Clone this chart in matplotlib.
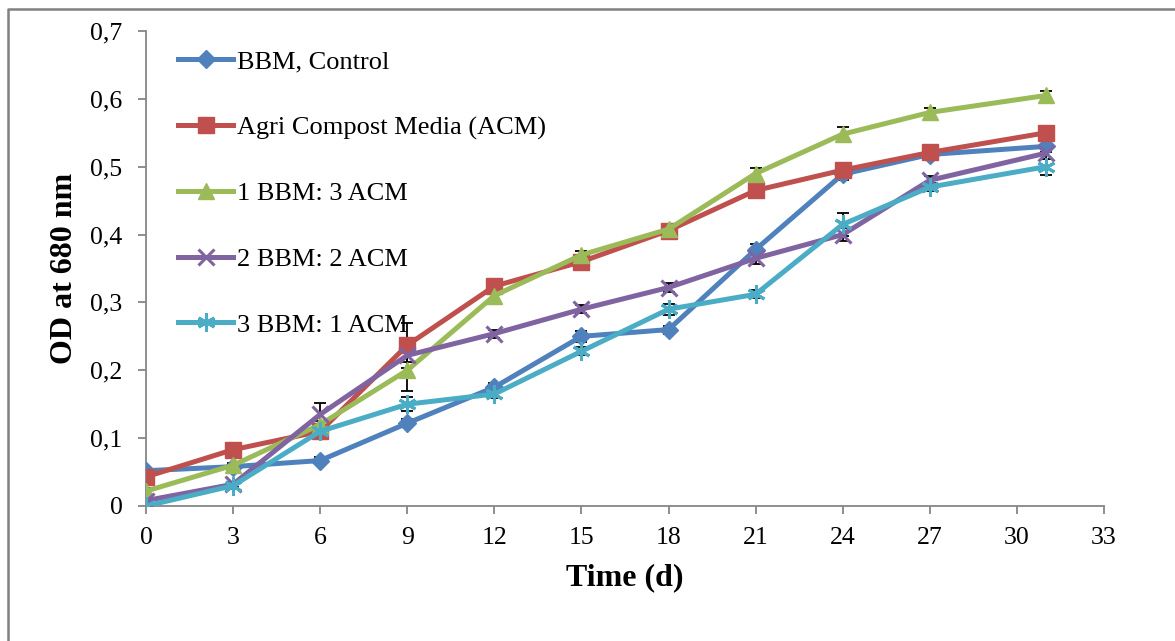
import numpy as np
import matplotlib.pyplot as plt
from matplotlib.ticker import FuncFormatter, MultipleLocator
from matplotlib.lines import Line2D

plt.rcParams['font.family'] = ['Liberation Serif', 'DejaVu Serif']

# sampling days
days = [0, 3, 6, 9, 12, 15, 18, 21, 24, 27, 31]

# OD readings for each growth medium
bbm_control = [0.052, 0.058, 0.067, 0.122, 0.175, 0.250, 0.260, 0.378, 0.489, 0.518, 0.530]
acm = [0.043, 0.083, 0.110, 0.237, 0.324, 0.360, 0.406, 0.465, 0.495, 0.521, 0.550]
bbm1_acm3 = [0.022, 0.060, 0.120, 0.200, 0.310, 0.370, 0.408, 0.490, 0.548, 0.580, 0.605]
bbm2_acm2 = [0.008, 0.032, 0.135, 0.222, 0.254, 0.290, 0.322, 0.365, 0.400, 0.480, 0.520]
bbm3_acm1 = [0.000, 0.030, 0.110, 0.150, 0.165, 0.228, 0.290, 0.312, 0.415, 0.470, 0.500]

# standard deviations
err_bbm = [0.004, 0.004, 0.005, 0.006, 0.006, 0.008, 0.006, 0.008, 0.008, 0.006, 0.008]
err_acm = [0.004, 0.005, 0.006, 0.033, 0.006, 0.006, 0.006, 0.006, 0.006, 0.006, 0.006]
err_13 = [0.004, 0.004, 0.006, 0.030, 0.006, 0.006, 0.006, 0.008, 0.010, 0.006, 0.006]
err_22 = [0.004, 0.004, 0.017, 0.010, 0.006, 0.006, 0.006, 0.008, 0.010, 0.006, 0.008]
err_31 = [0.003, 0.005, 0.008, 0.010, 0.006, 0.006, 0.008, 0.006, 0.017, 0.006, 0.012]

labels = ['BBM, Control', 'Agri Compost Media (ACM)', '1 BBM: 3 ACM',
          '2 BBM: 2 ACM', '3 BBM: 1 ACM']
series = [bbm_control, acm, bbm1_acm3, bbm2_acm2, bbm3_acm1]
errors = [err_bbm, err_acm, err_13, err_22, err_31]
colors = ['#4F81BD', '#C0504D', '#9BBB59', '#8064A2', '#4BACC6']
markers = ['D', 's', '^', 'x', (6, 2, 0)]
msizes = [9, 11, 12, 11, 13]

fig = plt.figure(figsize=(11.75, 6.41), dpi=100)
ax = fig.add_axes([146 / 1175, 1 - 506 / 641, (1104 - 146) / 1175, (506 - 31) / 641])

for y, e in zip(series, errors):
    ax.errorbar(days, y, yerr=e, fmt='none', ecolor='black', elinewidth=1.3,
                capsize=4, capthick=1.3, zorder=2)

for y, lab, c, m, ms in zip(series, labels, colors, markers, msizes):
    ax.plot(days, y, color=c, lw=3.6, marker=m, ms=ms, mec=c, mfc=c,
            mew=2.2 if m in ('x',) or isinstance(m, tuple) else 1, label=lab, zorder=3)

ax.set_xlim(0, 33)
ax.set_ylim(0, 0.7)
ax.xaxis.set_major_locator(MultipleLocator(3))
ax.yaxis.set_major_locator(MultipleLocator(0.1))
ax.yaxis.set_major_formatter(FuncFormatter(
    lambda v, p: '0' if abs(v) < 1e-9 else f'{v:.1f}'.replace('.', ',')))

for s in ['top', 'right']:
    ax.spines[s].set_visible(False)
for s in ['left', 'bottom']:
    ax.spines[s].set_color('#868686')
    ax.spines[s].set_linewidth(1.3)
ax.tick_params(axis='both', direction='out', length=6, width=1.3, color='#868686',
               labelsize=18.5)
ax.tick_params(axis='y', pad=11)
ax.tick_params(axis='x', pad=9)

ax.set_xlabel('Time (d)', fontsize=23, fontweight='bold', labelpad=10)
ax.set_ylabel('OD at 680 nm', fontsize=23, fontweight='bold', labelpad=8)

ax.legend(loc='upper left', bbox_to_anchor=(178 / 1175, 1 - 50 / 641),
          bbox_transform=fig.transFigure, frameon=False, fontsize=19,
          numpoints=1, handlelength=2.1, handletextpad=0.15, labelspacing=1.6,
          borderpad=0, borderaxespad=0)

# outer frame: top and left edges only
fig.add_artist(Line2D([8 / 1175, 8 / 1175, 1], [0, 1 - 9 / 641, 1 - 9 / 641],
                      transform=fig.transFigure, color='#808080', lw=1.8))

fig.savefig('out.png', dpi=100)
